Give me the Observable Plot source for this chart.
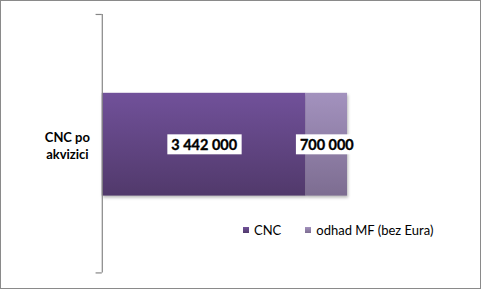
<!DOCTYPE html>
<html>
<head>
<meta charset="utf-8">
<script src="https://cdn.jsdelivr.net/npm/d3@7"></script>
<script src="https://cdn.jsdelivr.net/npm/@observablehq/plot@0.6"></script>
<style>
  html, body { margin: 0; padding: 0; background: #fff; }
  #wrap { position: relative; width: 481px; height: 289px; box-sizing: border-box; border: 1px solid #8a8a8a; overflow: hidden; font-family: Lato, "DejaVu Sans", sans-serif; }
  #chart { position: absolute; left: -1px; top: -1px; }
  #legend { position: absolute; left: 242px; top: 221px; display: flex; align-items: center; font-size: 13px; color: #000; white-space: nowrap; }
  #legend .item { display: flex; align-items: center; }
  #legend .sw { width: 6px; height: 6px; margin-right: 5px; }
</style>
</head>
<body>
<div id="wrap"><div id="chart"></div><div id="legend"></div></div>
<script>
const categories = ["CNC po akvizici"];
const series = ["CNC", "odhad MF (bez Eura)"];
const values = [3442000, 700000];
const valueLabels = ["3 442 000", "700 000"];
const gradientTop = ["#71519a", "#a392be"];
const gradientBottom = ["#51396b", "#7d6d91"];
const gradientIds = ["gCNC", "gMF"];

const data = series.map((s, i) => ({category: categories[0], series: s, value: values[i], label: valueLabels[i]}));

const W = 481, H = 289, mT = 14, mB = 16, mL = 102;
const halfBand = (H - mT - mB) / 2;

const plot = Plot.plot({
  width: W, height: H,
  marginLeft: mL, marginRight: 23, marginTop: mT, marginBottom: mB,
  style: {fontFamily: "Lato, 'DejaVu Sans', sans-serif", background: "transparent"},
  x: {domain: [0, 6000000], axis: null},
  y: {domain: categories, padding: 0, axis: null},
  color: {domain: series, range: gradientIds.map(id => `url(#${id})`)},
  marks: [
    Plot.barX(data, Plot.stackX({x: "value", y: "category", fill: "series", insetTop: 79, insetBottom: 77})),
    Plot.text(data, Plot.stackX({x: "value", y: "category", text: "label", fontSize: 14.5, fontWeight: "bold", fill: "#000", stroke: "#000", strokeWidth: 0.35, dy: 1.5})),
    Plot.ruleX([0], {stroke: "#868686", strokeWidth: 1.2}),
    Plot.ruleY(categories, {y: d => d, x1: -105000, x2: 0, dy: -halfBand, stroke: "#868686", strokeWidth: 1.2}),
    Plot.ruleY(categories, {y: d => d, x1: -105000, x2: 0, dy: halfBand, stroke: "#868686", strokeWidth: 1.2}),
    Plot.text(categories, {y: d => d, text: d => d.replace(" po ", " po\n"), frameAnchor: "left", dx: -35, textAnchor: "middle", lineHeight: 1.35, fontSize: 13, fontWeight: "bold", fill: "#000", dy: 1})
  ]
});
document.getElementById("chart").appendChild(plot);

const svg = d3.select(plot);
const defs = svg.insert("defs", ":first-child");
gradientIds.forEach((id, i) => {
  const g = defs.append("linearGradient").attr("id", id).attr("x1", 0).attr("y1", 0).attr("x2", 0).attr("y2", 1);
  g.append("stop").attr("offset", "0%").attr("stop-color", gradientTop[i]);
  g.append("stop").attr("offset", "100%").attr("stop-color", gradientBottom[i]);
});

// subtle drop shadow on the bars
svg.selectAll("rect").filter(function() {
  const f = this.getAttribute("fill") || "";
  return f.startsWith("url(");
}).each(function() { this.parentNode.style.filter = "drop-shadow(1.5px 2px 1.5px rgba(0,0,0,0.28))"; });

// white boxes behind the value labels
svg.selectAll("text").filter(function() { return valueLabels.includes(this.textContent); }).each(function() {
  const b = this.getBBox();
  const r = document.createElementNS("http://www.w3.org/2000/svg", "rect");
  r.setAttribute("x", b.x - 4);
  r.setAttribute("y", b.y - 1.5);
  r.setAttribute("width", b.width + 8);
  r.setAttribute("height", b.height + 3);
  r.setAttribute("fill", "#fff");
  r.setAttribute("stroke", "none");
  const t = this.getAttribute("transform");
  if (t) r.setAttribute("transform", t);
  this.parentNode.insertBefore(r, this);
});

const legend = d3.select("#legend");
series.forEach((s, i) => {
  const item = legend.append("div").attr("class", "item").style("margin-right", i === 0 ? "24px" : "0");
  item.append("div").attr("class", "sw").style("background", `linear-gradient(${gradientTop[i]}, ${gradientBottom[i]})`);
  item.append("span").text(s);
});
</script>
</body>
</html>
